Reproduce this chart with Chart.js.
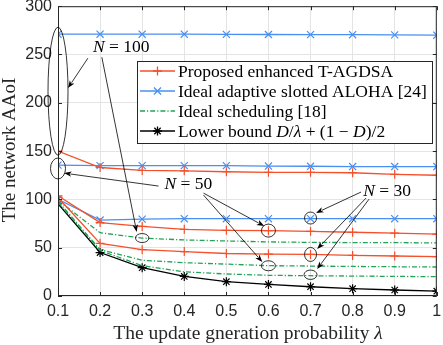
<!DOCTYPE html>
<html lang="en">
<head>
  <meta charset="UTF-8">
  <title>Network AAoI</title>
  <style>
    html, body { margin: 0; padding: 0; background: #fff; }
    #wrap { width: 443px; height: 345px; }
  </style>
</head>
<body>
  <div id="wrap"><canvas id="aaoiChart" width="443" height="345"></canvas></div>

  <script src="https://cdn.jsdelivr.net/npm/chart.js"></script>
  <script>
    // update generation probability (x axis)
    const lambda = [0.1, 0.2, 0.3, 0.4, 0.5, 0.6, 0.7, 0.8, 0.9, 1.0];

    // Proposed enhanced T-AGDSA
    const propN100 = [150, 133, 130, 129.6, 128.6, 128, 128, 127.6, 126, 125];
    const propN50  = [103.8, 76, 72, 69, 68, 67.6, 67, 66, 65, 64];
    const propN30  = [102, 54.5, 48, 46, 44, 43.4, 43, 42, 41.4, 40.7];

    // Ideal adaptive slotted ALOHA [24]
    const alohaN100 = [271, 271, 271, 271, 270.8, 270.7, 270.6, 270.5, 270.3, 270];
    const alohaN50  = [135.5, 135, 135, 135, 135, 134.5, 134.3, 134, 134, 134];
    const alohaN30  = [100, 78.6, 79.6, 80, 80, 80, 80, 80, 80, 80];

    // Ideal scheduling [18]
    const schedN100 = [99, 65.5, 60, 58, 57, 56, 55.5, 55.3, 55.2, 55];
    const schedN50  = [98, 48, 37, 34.5, 33, 31.4, 31, 30.6, 30.3, 30];
    const schedN30  = [97, 47, 31.4, 25, 22.8, 21.4, 21, 20.6, 20.3, 20];

    // Lower bound
    const lowerBound = [95.5, 45, 29.3, 20.3, 14.8, 12, 9.6, 7.6, 6.2, 5];

    const xTicks = [0.1, 0.2, 0.3, 0.4, 0.5, 0.6, 0.7, 0.8, 0.9, 1];
    const yTicks = [0, 50, 100, 150, 200, 250, 300];

    const RED = '#f4502a';
    const BLUE = '#4a8ff2';
    const GREEN = '#22a457';
    const BLACK = '#000000';
    const SERIF = '"Liberation Serif", "DejaVu Serif", serif';
    const SANS = '"Liberation Sans", Arial, sans-serif';

    function pts(arr) { return arr.map((v, i) => ({ x: lambda[i], y: v })); }

    function serie(arr, color, style, radius, dash) {
      return {
        data: pts(arr),
        borderColor: color,
        backgroundColor: color,
        borderWidth: 1.3,
        borderDash: dash || [],
        pointStyle: style || false,
        pointRadius: style ? radius : 0,
        pointBorderColor: color,
        pointBorderWidth: 1.2,
        tension: 0
      };
    }

    const DASHDOT = [5, 2, 1.2, 2];
    const datasets = [
      serie(propN100, RED, 'cross', 4.5),
      serie(propN50, RED, 'cross', 4.5),
      serie(propN30, RED, 'cross', 4.5),
      serie(alohaN100, BLUE, 'crossRot', 5),
      serie(alohaN50, BLUE, 'crossRot', 5),
      serie(alohaN30, BLUE, 'crossRot', 5),
      serie(schedN100, GREEN, false, 0, DASHDOT),
      serie(schedN50, GREEN, false, 0, DASHDOT),
      serie(schedN30, GREEN, false, 0, DASHDOT),
      serie(lowerBound, BLACK, 'star', 4.5)
    ];

    // annotation ellipses: center in data units, radii in pixels
    const ellipses = [
      { x: 0.1, y: 212, rx: 10, ry: 64 },
      { x: 0.1, y: 132, rx: 7.5, ry: 10.5 },
      { x: 0.3, y: 60, rx: 6.7, ry: 4.5 },
      { x: 0.6, y: 67.7, rx: 7, ry: 6.5 },
      { x: 0.6, y: 31.3, rx: 7, ry: 5 },
      { x: 0.7, y: 80.7, rx: 6, ry: 6 },
      { x: 0.7, y: 43, rx: 6, ry: 7 },
      { x: 0.7, y: 22, rx: 6.5, ry: 4.7 }
    ];
    // arrows: [fromX, fromY, toX, toY] in data units
    const arrows = [
      [0.171, 246.2, 0.1237, 215.2],
      [0.2042, 247.2, 0.287, 66.2],
      [0.339, 113.8, 0.1142, 127.2],
      [0.4457, 106.5, 0.590, 72.4],
      [0.4457, 104.5, 0.5855, 35.2],
      [0.820, 107.6, 0.713, 85.9],
      [0.832, 101.4, 0.7157, 48.6],
      [0.839, 100.3, 0.7157, 27.9]
    ];
    const labels = [
      { x: 0.183, y: 257.6, n: '100' },
      { x: 0.353, y: 115.9, n: '50' },
      { x: 0.825, y: 108.6, n: '30' }
    ];

    // draw a run of [text, italic] pieces starting at x
    function drawRich(ctx, parts, x, y, size) {
      parts.forEach(p => {
        ctx.font = (p[1] ? 'italic ' : '') + size + 'px ' + SERIF;
        ctx.fillText(p[0], x, y);
        x += ctx.measureText(p[0]).width;
      });
      return x;
    }
    function richWidth(ctx, parts, size) {
      let w = 0;
      parts.forEach(p => {
        ctx.font = (p[1] ? 'italic ' : '') + size + 'px ' + SERIF;
        w += ctx.measureText(p[0]).width;
      });
      return w;
    }

    function marker(ctx, style, x, y, r) {
      ctx.beginPath();
      if (style === 'cross' || style === 'star') {
        ctx.moveTo(x - r, y); ctx.lineTo(x + r, y);
        ctx.moveTo(x, y - r); ctx.lineTo(x, y + r);
      }
      if (style === 'crossRot' || style === 'star') {
        const d = r * 0.7071;
        ctx.moveTo(x - d, y - d); ctx.lineTo(x + d, y + d);
        ctx.moveTo(x - d, y + d); ctx.lineTo(x + d, y - d);
      }
      ctx.stroke();
    }

    const decor = {
      id: 'decor',
      afterDatasetsDraw(chart) {
        const ctx = chart.ctx;
        const xs = chart.scales.x, ys = chart.scales.y;
        const a = chart.chartArea;
        ctx.save();

        // box + inward ticks
        ctx.strokeStyle = '#262626';
        ctx.lineWidth = 1;
        ctx.setLineDash([]);
        ctx.strokeRect(a.left + 0.5, a.top + 0.5, a.right - a.left - 1, a.bottom - a.top - 1);
        ctx.beginPath();
        xTicks.forEach(t => {
          const px = Math.round(xs.getPixelForValue(t)) + 0.5;
          ctx.moveTo(px, a.bottom); ctx.lineTo(px, a.bottom - 4);
          ctx.moveTo(px, a.top); ctx.lineTo(px, a.top + 4);
        });
        yTicks.forEach(t => {
          const py = Math.round(ys.getPixelForValue(t)) + 0.5;
          ctx.moveTo(a.left, py); ctx.lineTo(a.left + 4, py);
          ctx.moveTo(a.right, py); ctx.lineTo(a.right - 4, py);
        });
        ctx.stroke();

        // annotations
        ctx.strokeStyle = '#000';
        ctx.fillStyle = '#000';
        ctx.lineWidth = 0.8;
        ellipses.forEach(e => {
          ctx.beginPath();
          ctx.ellipse(xs.getPixelForValue(e.x), ys.getPixelForValue(e.y), e.rx, e.ry, 0, 0, Math.PI * 2);
          ctx.stroke();
        });
        arrows.forEach(ar => {
          const x1 = xs.getPixelForValue(ar[0]), y1 = ys.getPixelForValue(ar[1]);
          const x2 = xs.getPixelForValue(ar[2]), y2 = ys.getPixelForValue(ar[3]);
          const ang = Math.atan2(y2 - y1, x2 - x1);
          const L = 8, W = 0.35;
          ctx.beginPath();
          ctx.moveTo(x1, y1);
          ctx.lineTo(x2 - Math.cos(ang) * L * 0.8, y2 - Math.sin(ang) * L * 0.8);
          ctx.stroke();
          ctx.beginPath();
          ctx.moveTo(x2, y2);
          ctx.lineTo(x2 - L * Math.cos(ang - W), y2 - L * Math.sin(ang - W));
          ctx.lineTo(x2 - L * 0.7 * Math.cos(ang), y2 - L * 0.7 * Math.sin(ang));
          ctx.lineTo(x2 - L * Math.cos(ang + W), y2 - L * Math.sin(ang + W));
          ctx.closePath();
          ctx.fill();
        });
        ctx.textBaseline = 'middle';
        ctx.textAlign = 'left';
        labels.forEach(l => {
          drawRich(ctx, [['N', true], [' = ' + l.n, false]],
            xs.getPixelForValue(l.x), ys.getPixelForValue(l.y), 17.5);
        });

        // legend
        const lx = 137, ly = 61, lw = 295, lh = 82;
        ctx.fillStyle = '#fff';
        ctx.fillRect(lx, ly, lw, lh);
        ctx.strokeStyle = '#262626';
        ctx.lineWidth = 1;
        ctx.strokeRect(lx + 0.5, ly + 0.5, lw, lh);
        const items = [
          { c: RED, m: 'cross', r: 4.5, d: [], t: [['Proposed enhanced T-AGDSA', false]] },
          { c: BLUE, m: 'crossRot', r: 5, d: [], t: [['Ideal adaptive slotted ALOHA [24]', false]] },
          { c: GREEN, m: null, r: 0, d: DASHDOT, t: [['Ideal scheduling [18]', false]] },
          { c: BLACK, m: 'star', r: 4.5, d: [], t: [['Lower bound ', false], ['D', true], ['/', false], ['\u03bb', true],
            [' + (1 \u2212 ', false], ['D', true], [')/2', false]] }
        ];
        items.forEach((it, i) => {
          const y = 71 + i * 20;
          ctx.strokeStyle = it.c;
          ctx.lineWidth = 1.3;
          ctx.setLineDash(it.d);
          ctx.beginPath(); ctx.moveTo(140, y); ctx.lineTo(175, y); ctx.stroke();
          ctx.setLineDash([]);
          if (it.m) marker(ctx, it.m, 157.5, y, it.r);
          ctx.fillStyle = '#000';
          drawRich(ctx, it.t, 178, y + 1, 17.5);
        });

        // axis titles
        ctx.fillStyle = '#262626';
        const xt = [['The update gneration probability ', false], ['\u03bb', true]];
        const w = richWidth(ctx, xt, 19.5);
        drawRich(ctx, xt, 248 - w / 2, 334, 19.5);
        ctx.translate(10, 150);
        ctx.rotate(-Math.PI / 2);
        ctx.textAlign = 'center';
        ctx.font = '19px ' + SERIF;
        ctx.fillText('The network AAoI', 0, 0);
        ctx.restore();
      }
    };

    function noPad(s) {
      s.paddingTop = 0; s.paddingBottom = 0;
      s.paddingLeft = 0; s.paddingRight = 0;
    }

    new Chart(document.getElementById('aaoiChart'), {
      type: 'line',
      data: { datasets: datasets },
      options: {
        responsive: false,
        animation: false,
        layout: { padding: { top: 6, right: 5, left: 0, bottom: 0 } },
        plugins: { legend: { display: false }, tooltip: { enabled: false } },
        scales: {
          x: {
            type: 'linear', min: 0.1, max: 1,
            afterFit: s => { s.height = 49; noPad(s); },
            afterBuildTicks: s => { s.ticks = xTicks.map(v => ({ value: v })); },
            grid: { color: '#e4e4e4', drawTicks: false },
            border: { display: false },
            ticks: {
              padding: 6,
              color: '#262626',
              font: { family: SANS, size: 16 },
              callback: v => (v === 1 ? '1' : v.toFixed(1))
            }
          },
          y: {
            min: 0, max: 300,
            afterFit: s => { s.width = 58; noPad(s); },
            afterBuildTicks: s => { s.ticks = yTicks.map(v => ({ value: v })); },
            grid: { color: '#e4e4e4', drawTicks: false },
            border: { display: false },
            ticks: {
              padding: 6,
              color: '#262626',
              font: { family: SANS, size: 16 }
            }
          }
        }
      },
      plugins: [decor]
    });
  </script>
</body>
</html>
